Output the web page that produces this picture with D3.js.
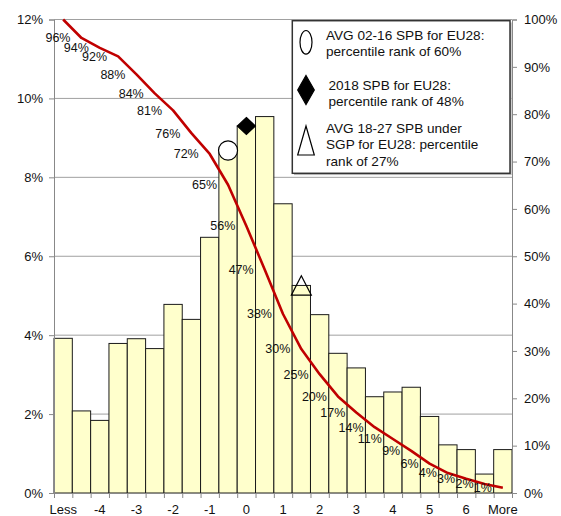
<!DOCTYPE html>
<html>
<head>
<meta charset="utf-8">
<script src="https://cdn.jsdelivr.net/npm/d3@7"></script>
<style>
  body { margin: 0; background: #fff; }
  svg { display: block; font-family: "Liberation Sans", Arial, sans-serif; }
</style>
</head>
<body>
<div id="chart"></div>
<script>
// Categories of the histogram (SPB bins)
const categories = ["Less", "-4.5", "-4", "-3.5", "-3", "-2.5", "-2", "-1.5", "-1", "-0.5",
  "0", "0.5", "1", "1.5", "2", "2.5", "3", "3.5", "4", "4.5", "5", "5.5", "6", "6.5", "More"];
// Labels shown on the x axis
const xLabels = ["Less", "-4", "-3", "-2", "-1", "0", "1", "2", "3", "4", "5", "6", "More"];
// Frequency of each bin, in % (left axis)
const frequency = [3.92, 2.08, 1.84, 3.79, 3.91, 3.66, 4.78, 4.40, 6.48, 8.64,
  9.30, 9.54, 7.33, 5.26, 4.52, 3.54, 3.17, 2.44, 2.56, 2.68, 1.94, 1.22, 1.10, 0.48, 1.10];
// Percentile rank curve, in % (right axis)
const percentile = [100, 96.1, 94.0, 92.2, 88.4, 84.4, 80.8, 76.0, 71.6, 65.1,
  56.4, 47.2, 37.8, 30.4, 25.1, 20.4, 17.0, 13.9, 11.4, 8.9, 6.2, 4.2, 3.0, 1.9, 1.1];
// Markers: bin, frequency level (%) and shape
const markerCats = ["-0.5", "0", "1.5"];
const markerValues = [8.68, 9.30, 5.26];
const markerShapes = ["circle", "diamond", "triangle"];
// Legend entries
const legendText = [
  ["AVG 02-16 SPB for EU28:", "percentile rank of 60%"],
  ["2018 SPB for EU28:", "percentile rank of 48%"],
  ["AVG 18-27 SPB under", "SGP for EU28: percentile", "rank of 27%"]
];
const leftTicks = [0, 2, 4, 6, 8, 10, 12];
const rightTicks = [0, 10, 20, 30, 40, 50, 60, 70, 80, 90, 100];

const W = 561, H = 516;
const plot = {left: 54, right: 512, top: 19.5, bottom: 493};

const svg = d3.select("#chart").append("svg")
  .attr("width", W).attr("height", H);

const x = d3.scaleBand().domain(categories).range([plot.left, plot.right]).padding(0);
const xIdx = d3.scaleLinear().domain([0, categories.length]).range([plot.left, plot.right]);
const yL = d3.scaleLinear().domain([0, 12]).range([plot.bottom, plot.top]);
const yR = d3.scaleLinear().domain([0, 100]).range([plot.bottom, plot.top]);

// Gridlines
svg.append("g")
  .selectAll("line")
  .data(leftTicks.filter(d => d > 0))
  .join("line")
  .attr("x1", plot.left).attr("x2", plot.right)
  .attr("y1", d => yL(d)).attr("y2", d => yL(d))
  .attr("stroke", "#a0a0a0").attr("stroke-width", 1);

// Bars
svg.append("g")
  .selectAll("rect")
  .data(frequency)
  .join("rect")
  .attr("x", (d, i) => x(categories[i]))
  .attr("y", d => yL(d))
  .attr("width", x.bandwidth())
  .attr("height", d => plot.bottom - yL(d))
  .attr("fill", "#ffffcc")
  .attr("stroke", "#1a1a1a")
  .attr("stroke-width", 1);

// Left axis
const axL = svg.append("g")
  .attr("transform", `translate(${plot.left},0)`)
  .call(d3.axisLeft(yL).tickValues(leftTicks).tickFormat(d => d + "%").tickSize(5).tickPadding(6));
// Right axis
const axR = svg.append("g")
  .attr("transform", `translate(${plot.right},0)`)
  .call(d3.axisRight(yR).tickValues(rightTicks).tickFormat(d => d + "%").tickSize(5).tickPadding(7));
// X axis tick marks at bin boundaries
const axT = svg.append("g")
  .attr("transform", `translate(0,${plot.bottom})`)
  .call(d3.axisBottom(xIdx).tickValues(d3.range(categories.length + 1)).tickFormat("").tickSize(5));
// X axis labels at bin centres
const axX = svg.append("g")
  .attr("transform", `translate(0,${plot.bottom})`)
  .call(d3.axisBottom(x).tickFormat(d => xLabels.includes(d) ? d : "").tickSize(0).tickPadding(12));
axX.select(".domain").remove();

[axL, axR, axT].forEach(g => {
  g.select(".domain").attr("stroke", "#888");
  g.selectAll(".tick line").attr("stroke", "#888");
});
[axL, axR, axX].forEach(g => {
  g.selectAll("text").attr("font-size", 13).attr("fill", "#111")
    .attr("font-family", "Liberation Sans, Arial, sans-serif");
});

// Percentile curve
const line = d3.line()
  .x((d, i) => x(categories[i]) + x.bandwidth() / 2)
  .y(d => yR(d));

svg.append("path")
  .datum(percentile)
  .attr("fill", "none")
  .attr("stroke", "#c00000")
  .attr("stroke-width", 2.6)
  .attr("stroke-linejoin", "round")
  .attr("d", line);

// Data labels (left of each point, first one omitted)
svg.append("g")
  .selectAll("text")
  .data(percentile.slice(1))
  .join("text")
  .attr("x", (d, i) => x(categories[i + 1]) + x.bandwidth() / 2 - 11)
  .attr("y", d => yR(d))
  .attr("dy", "0.35em")
  .attr("text-anchor", "end")
  .attr("font-size", 12.5)
  .attr("fill", "#111")
  .text(d => Math.round(d) + "%");

// Marker shapes
function shapePath(shape, cx, cy, big) {
  if (shape === "circle") {
    const rx = big ? 9.5 : 6, ry = big ? 9.7 : 11.8;
    return `M${cx - rx},${cy}a${rx},${ry} 0 1,0 ${2 * rx},0a${rx},${ry} 0 1,0 ${-2 * rx},0Z`;
  }
  if (shape === "diamond") {
    const hw = big ? 9 : 8.3, hh = big ? 8.5 : 14.5;
    return `M${cx},${cy - hh}L${cx + hw},${cy}L${cx},${cy + hh}L${cx - hw},${cy}Z`;
  }
  const hw = big ? 10 : 8.3, hh = big ? 9.7 : 14.5;
  return `M${cx},${cy - hh}L${cx + hw},${cy + hh}L${cx - hw},${cy + hh}Z`;
}
const markerFill = { circle: "#fff", diamond: "#000", triangle: "none" };

svg.append("g")
  .selectAll("path")
  .data(markerCats)
  .join("path")
  .attr("d", (c, i) => shapePath(markerShapes[i], x(c) + x.bandwidth() / 2, yL(markerValues[i]), true))
  .attr("fill", (c, i) => markerFill[markerShapes[i]])
  .attr("stroke", "#000")
  .attr("stroke-width", 1.2);

// Legend
const lg = svg.append("g");
lg.append("rect")
  .attr("x", 294).attr("y", 22.5).attr("width", 217.7).attr("height", 152.6)
  .attr("fill", "#bbb");
lg.append("rect")
  .attr("x", 292.3).attr("y", 20.7).attr("width", 217.7).attr("height", 152.6)
  .attr("fill", "#fff").attr("stroke", "#333").attr("stroke-width", 1.5);

const legendSymbolY = [42.3, 90, 140.5];
const legendTextY = [[40, 56], [90, 106], [132.5, 149, 165.5]];
legendText.forEach((lines, i) => {
  lg.append("path")
    .attr("d", shapePath(markerShapes[i], 306, legendSymbolY[i], false))
    .attr("fill", markerFill[markerShapes[i]])
    .attr("stroke", "#000")
    .attr("stroke-width", 1.2);
  lg.append("g")
    .selectAll("text")
    .data(lines)
    .join("text")
    .attr("x", i === 1 ? 328.5 : 326)
    .attr("y", (d, j) => legendTextY[i][j])
    .attr("font-size", 13.6)
    .attr("fill", "#111")
    .text(d => d);
});
</script>
</body>
</html>
